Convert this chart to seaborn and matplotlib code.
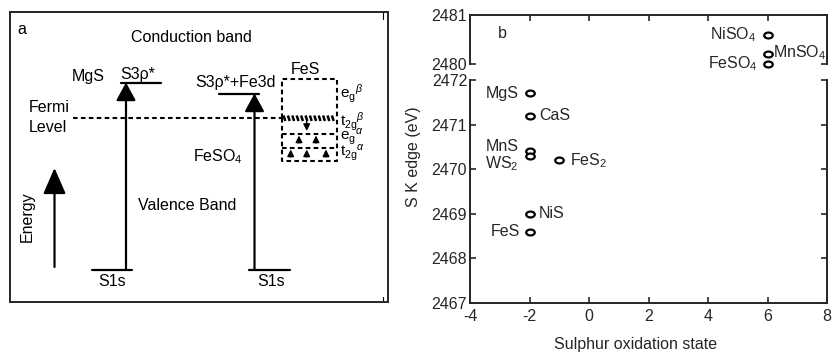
import numpy as np
import pandas as pd
import matplotlib
matplotlib.use("Agg")
import matplotlib.pyplot as plt
import seaborn as sns
from matplotlib.path import Path
from matplotlib.transforms import Affine2D

# ---------------- data (panel b) ----------------
compounds = ["MgS", "CaS", "MnS", "WS$_2$", "FeS$_2$", "NiS", "FeS",
             "NiSO$_4$", "MnSO$_4$", "FeSO$_4$"]
oxidation = [-2, -2, -2, -2, -1, -2, -2, 6, 6, 6]
s_k_edge = [2471.7, 2471.2, 2470.4, 2470.3, 2470.2, 2469.0, 2468.6,
            2480.6, 2480.2, 2480.0]
label_side = ["left", "right", "left", "left", "right", "right", "left",
              "left", "right", "left"]
label_dy = [0, 0, 3.5, -5.5, 0, 0, 0, 0, 1, 0]
label_dx = [8, 7, 8, 8, 8, 7, 7, 8, 4, 7]

x_ticks = [-4, -2, 0, 2, 4, 6, 8]
y_ticks_low = [2467, 2468, 2469, 2470, 2471, 2472]
y_ticks_high = [2480, 2481]

df = pd.DataFrame({"label": compounds, "ox": oxidation, "edge": s_k_edge,
                   "side": label_side, "dy": label_dy, "dx": label_dx})

# ---------------- style ----------------
sns.set_style("ticks")
plt.rcParams["font.family"] = ["Liberation Sans", "DejaVu Sans"]
plt.rcParams["mathtext.fontset"] = "custom"
plt.rcParams["mathtext.rm"] = "Liberation Sans"
plt.rcParams["mathtext.it"] = "Liberation Sans:italic"
plt.rcParams["mathtext.sf"] = "Liberation Sans"
FS = 11.5

fig = plt.figure(figsize=(8.38, 3.58), dpi=100)

# ---------------- panel b ----------------
L, W = 470 / 838, (827 - 470) / 838
ax_lo = fig.add_axes([L, (358 - 303) / 358, W, (303 - 80) / 358])
ax_hi = fig.add_axes([L, (358 - 64) / 358, W, (64 - 15) / 358])

ellipse = Path.unit_circle().transformed(Affine2D().scale(1.45, 1.0))

for ax in (ax_lo, ax_hi):
    sns.scatterplot(data=df, x="ox", y="edge", ax=ax, marker=ellipse, s=38,
                    facecolor="white", edgecolor="black", linewidth=1.6,
                    legend=False, clip_on=False, zorder=5)
    ax.set_xlim(-4, 8)
    ax.set_xticks(x_ticks)
    ax.set_xlabel("")
    ax.set_ylabel("")
    for sp in ax.spines.values():
        sp.set_linewidth(1.4)
    ax.tick_params(direction="in", length=4, width=1.2, labelsize=FS,
                   pad=2, right=True, top=True)

ax_lo.set_ylim(2467, 2472)
ax_lo.set_yticks(y_ticks_low)
ax_lo.spines["top"].set_visible(False)
ax_lo.tick_params(top=False)
ax_lo.tick_params(axis="x", pad=4)
ax_lo.set_xticklabels([str(t) for t in x_ticks])

ax_hi.set_ylim(2480, 2481)
ax_hi.set_yticks(y_ticks_high)
ax_hi.spines["bottom"].set_visible(False)
ax_hi.tick_params(bottom=False, labelbottom=False)

for _, r in df.iterrows():
    ax = ax_hi if r["edge"] > 2475 else ax_lo
    sgn = -1 if r["side"] == "left" else 1
    ax.annotate(r["label"], (r["ox"], r["edge"]),
                xytext=(sgn * r["dx"], r["dy"]), textcoords="offset points",
                ha="right" if sgn < 0 else "left", va="center",
                fontsize=FS, annotation_clip=False, zorder=6)

ax_hi.text(0.09, 0.63, "b", transform=ax_hi.transAxes, fontsize=FS,
           ha="center", va="center")
fig.text(413 / 838, (358 - 157) / 358, "S K edge (eV)", rotation=90,
         ha="center", va="center", fontsize=FS)
fig.text(636 / 838, (358 - 345) / 358, "Sulphur oxidation state",
         ha="center", va="center", fontsize=FS)

# ---------------- panel a (schematic in pixel-like units) ----------------
ax_a = fig.add_axes([10 / 838, (358 - 302) / 358, 378 / 838, 290 / 358])
ax_a.set_xlim(10, 388)
ax_a.set_ylim(302, 12)
ax_a.set_xticks([])
ax_a.set_yticks([])
for sp in ax_a.spines.values():
    sp.set_linewidth(1.4)

K = "black"
LW = 1.6


def arrow(x, y0, y1, hl, hw, lw=LW):
    ax_a.annotate("", xy=(x, y1), xytext=(x, y0),
                  arrowprops=dict(arrowstyle=f"-|>,head_length={hl},head_width={hw}",
                                  lw=lw, color=K, shrinkA=0, shrinkB=0,
                                  mutation_scale=20))


# levels
levels = {"S1s_left": (92, 132, 269.5), "S1s_right": (249, 290, 270),
          "S3p_MgS": (121, 161, 82.5), "S3p_FeSO4": (219, 259, 93.5)}
for x0, x1, y in levels.values():
    ax_a.plot([x0, x1], [y, y], color=K, lw=LW)

arrow(126, 269.5, 82.5, 0.55, 0.3)
arrow(254.5, 270, 93.5, 0.55, 0.3)
arrow(54.5, 267, 168, 0.8, 0.35)

# Fermi level
dash = dict(color=K, lw=1.5, ls=(0, (2.2, 1.6)))
ax_a.plot([73, 281], [117.7, 117.7], **dash)

# FeS boxes
ax_a.plot([281.5, 281.5, 336.5, 336.5], [117.7, 78.5, 78.5, 117.7], **dash)
ax_a.plot([281.5, 281.5, 336.5, 336.5], [117.7, 161, 161, 117.7], **dash)
ax_a.plot([281.5, 336.5], [134, 134], **dash)
ax_a.plot([281.5, 336.5], [147.7, 147.7], **dash)
# hatched (occupied) t2g-beta edge at the Fermi level
for xh in np.arange(283.5, 336, 4.4):
    ax_a.plot([xh, xh + 1.8], [115.5, 121], color=K, lw=1.8,
              solid_capstyle="butt")

arrow(306.7, 121, 131, 0.2, 0.1, lw=1.0)
for xa in (299, 316):
    arrow(xa, 143, 135.5, 0.2, 0.1, lw=1.0)
for xa in (290.7, 306.7, 326):
    arrow(xa, 157, 149.5, 0.2, 0.1, lw=1.0)

# texts
T = dict(fontsize=FS, color=K, va="center")
ax_a.text(22, 29, "a", ha="center", **T)
ax_a.text(191, 37, "Conduction band", ha="center", **T)
ax_a.text(88, 76, "MgS", ha="center", **T)
ax_a.text(138, 75, "S3ρ*", ha="center", **T)
ax_a.text(235.5, 83, "S3ρ*+Fe3d", ha="center", **T)
ax_a.text(305, 69, "FeS", ha="center", **T)
ax_a.text(29, 108, "Fermi", ha="left", **T)
ax_a.text(29, 128, "Level", ha="left", **T)
ax_a.text(193, 157, "FeSO$_4$", ha="left", **T)
ax_a.text(187, 206, "Valence Band", ha="center", **T)
ax_a.text(27, 217, "Energy", ha="center", rotation=90, **T)
ax_a.text(112, 282, "S1s", ha="center", **T)
ax_a.text(271.5, 282, "S1s", ha="center", **T)
TS = dict(fontsize=11, color=K, va="center")
ax_a.text(340, 94, r"e$_{\mathrm{g}}$$^{\beta}$", ha="left", **TS)
ax_a.text(340, 121.5, r"t$_{\mathrm{2g}}$$^{\beta}$", ha="left", **TS)
ax_a.text(340, 137, r"e$_{\mathrm{g}}$$^{\alpha}$", ha="left", **TS)
ax_a.text(340, 152.5, r"t$_{\mathrm{2g}}$$^{\alpha}$", ha="left", **TS)

# small stray ticks of the original frame
ax_a.plot([383, 383], [12, 19], color=K, lw=0.8)
ax_a.plot([383, 383], [297, 302], color=K, lw=0.8)

fig.savefig("out.png", dpi=100)
